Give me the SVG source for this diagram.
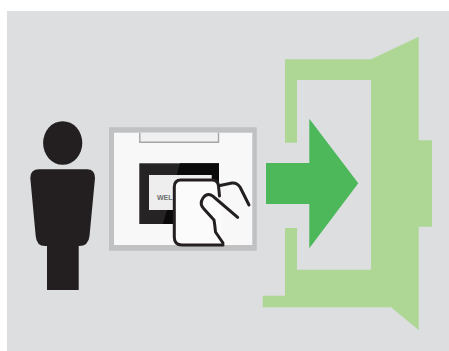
<svg xmlns="http://www.w3.org/2000/svg" width="449" height="351" viewBox="0 0 449 351">
<style>
.ln{fill:none;stroke:#231f20;stroke-width:3;stroke-linecap:round;stroke-linejoin:round}
.k{fill:#231f20}
</style>
<rect width="449" height="351" fill="#fff"/>
<rect x="7" y="11" width="442" height="340" fill="#dcdee0"/>
<g id="person">
<ellipse class="k" cx="62.7" cy="143" rx="19.6" ry="21.8"/>
<path class="k" d="M39 169.3H87Q95 169.3 95 178L89.5 236Q88.5 246 79 246H78.7V290H47V246H45Q36.5 246 35.7 236L30.3 178Q30.3 169.3 39 169.3Z"/>
</g>
<g id="panel">
<rect x="109" y="127.3" width="147.7" height="123.4" fill="#bfc1c3"/>
<rect x="114" y="132.7" width="138.3" height="112.3" fill="#f8f8f8"/>
<path d="M139.8 132.7V142.2H218.5V132.7" fill="#f0f0f0" stroke="#a7a5a5" stroke-width="1.4"/>
<rect x="139.3" y="163.3" width="79.7" height="60.7" fill="#262324"/>
<path d="M180 163.3H219V224H163Z" fill="#0b0a0a"/>
<rect x="149" y="175" width="62.7" height="35" fill="#eeeeee"/>
<text x="157" y="199.5" font-family="Liberation Sans, Arial, sans-serif" font-size="7" font-weight="700" fill="#6d6e70">WEL</text>
<path d="M181 180H212Q218 180 218.5 186L222 200V245H182Q174.3 245 174.3 237V187Q174.3 180 181 180Z" fill="#fbfbfb"/>
<path class="ln" d="M219.5 196L218.5 186Q218 180 212 180H181Q174.3 180 174.3 187V237Q174.3 245 182 245H223"/>
<path class="ln" d="M220 185.5L232 183Q237 182.5 240 187L249 205"/>
<path class="ln" d="M237.7 217.3L215 198Q208 191 203 198Q199 204 204 209L214 220Q215 226 215.5 232L223 243"/>
</g>
<g id="door">
<path fill="#aed795" d="M285 59.3H371L418.7 36.7V140.3H432V226.7H418.7V330L391 307.3H262.7V295.7H285V228H297V269.7H371V80H297V142.7H285Z"/>
</g>
<g id="connectors">
<path fill="#4cb85a" d="M266 163H309.3V118.7L358.3 183.3L309.3 248.3V204H266Z"/>
</g>
</svg>
